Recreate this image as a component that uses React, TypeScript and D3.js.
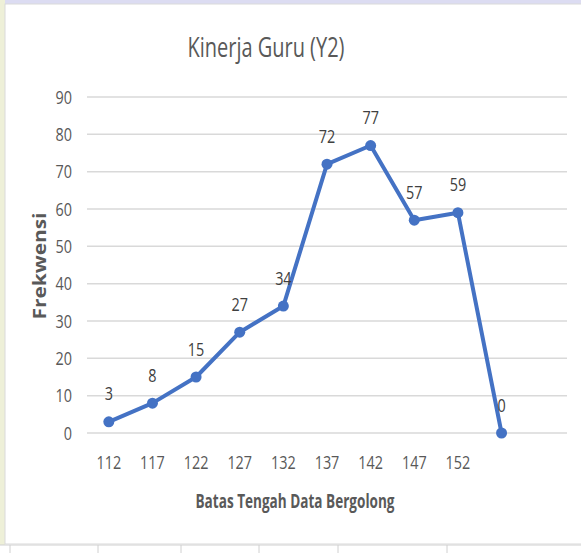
import React from "react";
import * as d3 from "d3";

const categories = ["112", "117", "122", "127", "132", "137", "142", "147", "152", "", " "];
const values: (number | null)[] = [3, 8, 15, 27, 34, 72, 77, 57, 59, 0, null];
const yTicks = [0, 10, 20, 30, 40, 50, 60, 70, 80, 90];
const title = "Kinerja Guru (Y2)";
const xTitle = "Batas Tengah Data Bergolong";
const yTitle = "Frekwensi";

const W = 581;
const H = 553;
const FONT = "'Open Sans', sans-serif";
const SX = 0.8;

function T(props: {
  x: number;
  y: number;
  anchor?: "start" | "middle" | "end";
  size: number;
  fill: string;
  weight?: string;
  children: React.ReactNode;
}) {
  return (
    <g transform={`translate(${props.x},${props.y}) scale(${SX},1)`}>
      <text
        x={0}
        y={0}
        textAnchor={props.anchor || "middle"}
        fontFamily={FONT}
        fontSize={props.size}
        fontWeight={props.weight || "normal"}
        fill={props.fill}
      >
        {props.children}
      </text>
    </g>
  );
}

export default function App() {
  const plotL = 87, plotR = 567, plotT = 97, plotB = 433;
  const x = d3.scaleBand<string>().domain(categories).range([plotL, plotR]);
  const y = d3.scaleLinear().domain([0, 90]).range([plotB, plotT]);
  const cx = (c: string) => (x(c) as number) + x.bandwidth() / 2;
  const pts = values
    .map((v, i) => ({ v, c: categories[i] }))
    .filter((d) => d.v !== null) as { v: number; c: string }[];
  const line = d3
    .line<{ v: number; c: string }>()
    .x((d) => cx(d.c))
    .y((d) => y(d.v));

  return (
    <svg
      width={W}
      height={H}
      style={{ position: "absolute", left: 0, top: 0, background: "#fff" }}
    >
      {/* spreadsheet background bits */}
      <rect x={0} y={0} width={W} height={5} fill="#dcdcf2" />
      <rect x={0} y={0} width={5} height={545} fill="#eef0d8" />
      <line x1={0} x2={W} y1={545} y2={545} stroke="#d0d0d0" />
      {[10, 98, 181, 259, 338, 447].map((lx) => (
        <line key={lx} x1={lx} x2={lx} y1={545} y2={H} stroke="#d0d0d0" />
      ))}
      <rect x={5} y={4} width={W} height={540} fill="#fff" stroke="#d9d9d9" />

      <text
        x={266}
        y={57}
        textAnchor="middle"
        fontFamily={FONT}
        fontSize={28}
        fill="#595959"
        textLength={157}
        lengthAdjust="spacingAndGlyphs"
      >
        {title}
      </text>

      {yTicks.map((t) => (
        <g key={t}>
          <line x1={plotL} x2={plotR} y1={y(t)} y2={y(t)} stroke="#d9d9d9" strokeWidth={1.5} />
          <T x={72} y={y(t) + 6.5} anchor="end" size={18} fill="#595959">
            {t}
          </T>
        </g>
      ))}

      {categories.map((c) => (
        <T key={c} x={cx(c)} y={469} size={18} fill="#595959">
          {c.trim()}
        </T>
      ))}

      <text
        x={295}
        y={508}
        textAnchor="middle"
        fontFamily={FONT}
        fontSize={20}
        fontWeight="bold"
        fill="#595959"
        textLength={199}
        lengthAdjust="spacingAndGlyphs"
      >
        {xTitle}
      </text>
      <text
        transform={`translate(46,266) rotate(-90)`}
        textAnchor="middle"
        fontFamily={FONT}
        fontSize={18}
        fontWeight="bold"
        fill="#595959"
        textLength={107}
        lengthAdjust="spacingAndGlyphs"
      >
        {yTitle}
      </text>

      <path d={line(pts) || ""} fill="none" stroke="#4472C4" strokeWidth={4} strokeLinejoin="round" />
      {pts.map((d) => (
        <circle key={d.c} cx={cx(d.c)} cy={y(d.v)} r={5.5} fill="#4472C4" />
      ))}
      {pts.map((d) => (
        <T key={"l" + d.c} x={cx(d.c)} y={y(d.v) - 21.5} size={18} fill="#404040">
          {d.v}
        </T>
      ))}
    </svg>
  );
}
